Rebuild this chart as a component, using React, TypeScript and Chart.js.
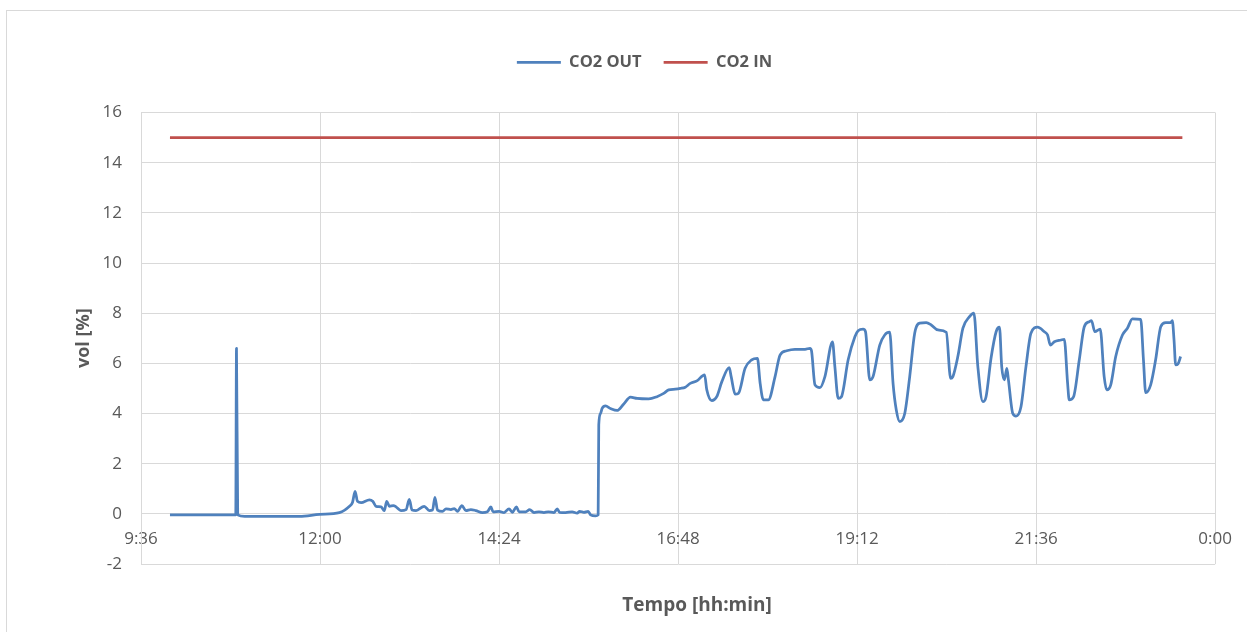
import { useEffect, useRef } from "react";
import { Chart, registerables } from "chart.js";

Chart.register(...registerables);

// Time axis (minutes since midnight): 9:36 -> 0:00 every 2h24
const timeMin = 576;
const timeMax = 1440;
const timeStep = 144;

// Value axis (vol %)
const volMin = -2;
const volMax = 16;
const volStep = 2;

// CO2 OUT samples: time in minutes since midnight
const outTimes = [
  599.3, 652.2, 652.8, 653.8, 659.4, 703.6, 719.6, 735.6, 743.7, 746.1,
  748.2, 750.1, 753.1, 759.7, 762.4, 765.1, 769.1, 771.7, 773.6, 775.8,
  779.0, 781.1, 785.1, 789.2, 791.8, 794.0, 797.2, 803.8, 807.9, 810.5,
  812.4, 814.5, 818.5, 821.3, 825.3, 827.9, 830.6, 834.1, 837.3, 841.3,
  845.3, 850.6, 854.6, 857.4, 859.2, 864.0, 868.0, 872.0, 874.7, 877.9,
  880.1, 885.4, 888.6, 892.1, 896.1, 900.1, 903.6, 908.1, 910.8, 912.7,
  917.5, 922.8, 926.8, 928.8, 932.2, 935.7, 937.6, 941.6, 943.7, 944.2,
  945.6, 946.9, 949.6, 953.6, 958.9, 964.3, 969.7, 975.0, 984.3, 991.0,
  996.4, 1000.4, 1005.8, 1009.8, 1013.8, 1017.8, 1023.1, 1029.3, 1031.1, 1035.1,
  1039.1, 1043.2, 1049.1, 1050.7, 1053.9, 1056.5, 1061.9, 1067.2, 1071.8, 1074.0,
  1076.6, 1080.6, 1086.0, 1090.0, 1095.3, 1102.0, 1110.1, 1114.1, 1115.3, 1118.1,
  1122.1, 1126.1, 1132.2, 1134.1, 1136.8, 1139.4, 1144.8, 1150.2, 1152.8, 1156.8,
  1158.7, 1162.2, 1164.8, 1170.2, 1174.2, 1178.2, 1180.9, 1183.5, 1186.3, 1190.3,
  1194.3, 1198.3, 1202.3, 1207.6, 1211.6, 1217.0, 1223.7, 1227.2, 1229.0, 1233.0,
  1237.1, 1242.4, 1245.9, 1249.1, 1253.1, 1255.7, 1259.7, 1263.8, 1266.5, 1268.3,
  1270.5, 1272.4, 1273.7, 1277.2, 1279.8, 1283.8, 1287.8, 1291.8, 1297.2, 1302.6,
  1305.2, 1307.4, 1310.6, 1315.9, 1318.6, 1321.3, 1322.6, 1326.1, 1330.7, 1334.7,
  1338.7, 1340.5, 1343.2, 1347.5, 1350.7, 1352.8, 1356.0, 1360.0, 1365.4, 1369.4,
  1373.4, 1380.1, 1382.3, 1384.1, 1388.1, 1392.1, 1396.2, 1400.2, 1404.2, 1405.5,
  1406.9, 1408.2, 1410.1, 1412.2,
];

// CO2 OUT vol %
const outValues = [
  -0.04, -0.04, 6.6, -0.04, -0.1, -0.1, -0.02, 0.05, 0.3, 0.45,
  0.9, 0.5, 0.45, 0.56, 0.5, 0.3, 0.28, 0.13, 0.5, 0.3,
  0.33, 0.28, 0.13, 0.17, 0.58, 0.15, 0.13, 0.3, 0.13, 0.15,
  0.66, 0.15, 0.1, 0.2, 0.17, 0.21, 0.1, 0.33, 0.13, 0.17,
  0.13, 0.05, 0.08, 0.28, 0.08, 0.1, 0.05, 0.2, 0.06, 0.28,
  0.08, 0.08, 0.17, 0.05, 0.08, 0.05, 0.08, 0.05, 0.2, 0.06,
  0.05, 0.08, 0.03, 0.1, 0.06, 0.1, -0.04, -0.08, -0.04, 3.55,
  4.0, 4.2, 4.3, 4.2, 4.12, 4.38, 4.65, 4.6, 4.58, 4.67,
  4.8, 4.94, 4.97, 5.0, 5.05, 5.2, 5.3, 5.54, 4.94, 4.51,
  4.67, 5.27, 5.83, 5.47, 4.77, 4.8, 5.8, 6.14, 6.2, 5.2,
  4.54, 4.54, 5.47, 6.33, 6.5, 6.56, 6.56, 6.6, 6.5, 5.14,
  5.03, 5.47, 6.86, 5.87, 4.6, 4.67, 6.14, 7.06, 7.3, 7.36,
  7.27, 5.34, 5.47, 6.73, 7.13, 7.24, 5.2, 4.14, 3.68, 4.0,
  5.47, 7.2, 7.6, 7.62, 7.53, 7.33, 7.24, 5.4, 5.47, 6.27,
  7.4, 7.86, 8.0, 5.87, 4.47, 4.67, 6.2, 7.26, 7.44, 5.87,
  5.34, 5.8, 5.34, 4.0, 3.9, 4.27, 5.87, 7.2, 7.44, 7.26,
  7.13, 6.73, 6.86, 6.93, 6.96, 5.2, 4.54, 4.67, 6.14, 7.46,
  7.66, 7.7, 7.26, 7.36, 5.47, 4.94, 5.14, 6.27, 7.13, 7.4,
  7.77, 7.75, 6.14, 4.83, 5.14, 6.14, 7.46, 7.62, 7.62, 7.7,
  6.93, 5.94, 5.98, 6.27,
];

// CO2 IN: constant inlet concentration
const inTimes = [599.3, 1413.6];
const inValues = [15, 15];

const seriesNames = ["CO2 OUT", "CO2 IN"];
const yTitle = "vol [%]";
const xTitle = "Tempo [hh:min]";

const FONT = '"Open Sans", "Liberation Sans", sans-serif';
const TEXT = "#595959";
const GRID = "#d9d9d9";

const toClock = (m: number) => {
  const t = Math.round(m) % 1440;
  return `${Math.floor(t / 60)}:${String(t % 60).padStart(2, "0")}`;
};

const zip = (xs: number[], ys: number[]) => xs.map((x, i) => ({ x, y: ys[i] }));

// Draws the time-axis caption below the plot
const xCaption = {
  id: "xCaption",
  afterDraw(chart: any) {
    const { ctx, chartArea } = chart;
    ctx.save();
    ctx.font = `bold 19px ${FONT}`;
    ctx.fillStyle = TEXT;
    ctx.textAlign = "center";
    ctx.textBaseline = "middle";
    ctx.fillText(xTitle, (chartArea.left + chartArea.right) / 2 + 19, chartArea.bottom + 42);
    ctx.restore();
  },
};

export default function App() {
  const canvasRef = useRef<HTMLCanvasElement | null>(null);

  useEffect(() => {
    if (!canvasRef.current) return;
    const chart = new Chart(canvasRef.current, {
      type: "line",
      data: {
        datasets: [
          {
            label: seriesNames[0],
            data: zip(outTimes, outValues),
            borderColor: "#4f81bd",
            backgroundColor: "#4f81bd",
            borderWidth: 2.75,
            pointRadius: 0,
            cubicInterpolationMode: "monotone",
            borderJoinStyle: "round",
          },
          {
            label: seriesNames[1],
            data: zip(inTimes, inValues),
            borderColor: "#c0504d",
            backgroundColor: "#c0504d",
            borderWidth: 2.75,
            pointRadius: 0,
            tension: 0,
          },
        ],
      },
      options: {
        responsive: true,
        maintainAspectRatio: false,
        animation: false,
        layout: { padding: { left: 64, right: 29, top: 21, bottom: 68 } },
        plugins: {
          legend: {
            position: "top",
            labels: {
              usePointStyle: true,
              pointStyle: "line",
              pointStyleWidth: 44,
              padding: 22,
              color: TEXT,
              font: { family: FONT, size: 16.5, weight: "bold" },
            },
          },
          // empty band between the legend and the plot
          title: {
            display: true,
            text: "",
            position: "top",
            weight: 500,
            padding: 0,
            font: { size: 10, lineHeight: "32px" },
          },
          tooltip: { enabled: false },
        },
        scales: {
          x: {
            type: "linear",
            position: { y: 0 },
            min: timeMin,
            max: timeMax,
            ticks: {
              stepSize: timeStep,
              callback: (v: any) => toClock(Number(v)),
              color: TEXT,
              font: { family: FONT, size: 17 },
              padding: 15,
              maxRotation: 0,
              autoSkip: false,
            },
            grid: { color: GRID, lineWidth: 1, drawTicks: false },
            border: { display: false },
          },
          y: {
            min: volMin,
            max: volMax,
            ticks: {
              stepSize: volStep,
              color: TEXT,
              font: { family: FONT, size: 17 },
              padding: 19,
            },
            grid: { color: GRID, lineWidth: 1, drawTicks: false },
            border: { color: GRID, width: 1 },
            title: {
              display: true,
              text: yTitle,
              color: TEXT,
              font: { family: FONT, size: 18, weight: "bold" },
              padding: { top: 2, bottom: 0 },
            },
            afterFit(scale: any) {
              scale.width = 70;
            },
          },
        },
      },
      plugins: [xCaption],
    } as any);
    return () => chart.destroy();
  }, []);

  return (
    <div
      style={{
        position: "absolute",
        left: 6,
        top: 10,
        width: 1241,
        height: 622,
        boxSizing: "border-box",
        borderLeft: `1px solid ${GRID}`,
        borderTop: `1px solid ${GRID}`,
        background: "#fff",
      }}
    >
      <div style={{ position: "relative", width: 1240, height: 621 }}>
        <canvas ref={canvasRef} />
      </div>
    </div>
  );
}
